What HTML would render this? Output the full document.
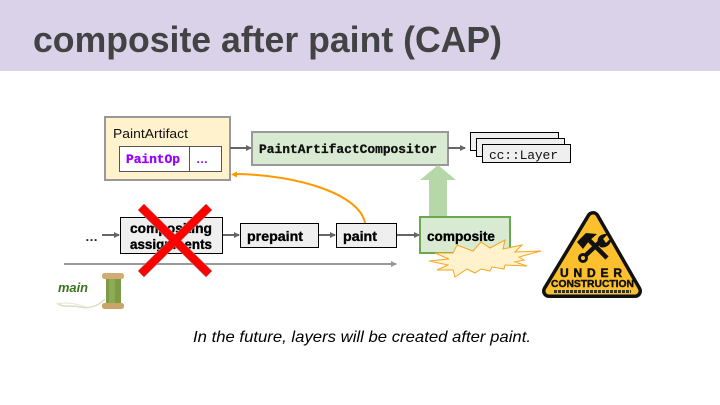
<!DOCTYPE html>
<html><head><meta charset="utf-8"><style>
html,body{margin:0;padding:0;background:#fff;width:720px;height:405px;overflow:hidden}
svg{display:block}
text{font-family:"Liberation Sans",sans-serif}
.m{font-family:"Liberation Mono",monospace}
.b{font-weight:bold;font-size:14px;fill:#000;stroke:#000;stroke-width:.35px}
</style></head><body>
<svg width="720" height="405" viewBox="0 0 720 405" xmlns="http://www.w3.org/2000/svg">
<defs>
<marker id="g" markerWidth="6" markerHeight="6" refX="5" refY="3" orient="auto" markerUnits="userSpaceOnUse"><path d="M0 0L6 3L0 6z" fill="#666"/></marker>
<marker id="g2" markerWidth="6" markerHeight="6" refX="5" refY="3" orient="auto" markerUnits="userSpaceOnUse"><path d="M0 0L6 3L0 6z" fill="#999"/></marker>
</defs>
<rect width="720" height="71" fill="#d9d2e9"/>
<text x="33" y="52" font-size="36" font-weight="bold" fill="#434343" textLength="469" lengthAdjust="spacingAndGlyphs">composite after paint (CAP)</text>

<rect x="105" y="117" width="125" height="63" fill="#fff2cc" stroke="#999" stroke-width="2"/>
<text x="113" y="138" font-size="13" fill="#111" textLength="75" lengthAdjust="spacingAndGlyphs">PaintArtifact</text>
<rect x="119.5" y="146.5" width="102" height="25" fill="#fff" stroke="#555"/>
<line x1="189.5" y1="146.5" x2="189.5" y2="171.5" stroke="#555"/>
<text class="m" x="126" y="163" font-size="13" font-weight="bold" fill="#9900ff" stroke="#9900ff" stroke-width=".3" textLength="54">PaintOp</text>
<text x="196" y="163" font-size="12" font-weight="bold" fill="#9900ff" textLength="8">…</text>

<line x1="230" y1="148" x2="251" y2="148" stroke="#666" stroke-width="2" marker-end="url(#g)"/>
<rect x="252" y="132" width="196" height="33" fill="#d9ead3" stroke="#999" stroke-width="2"/>
<text class="m" x="259" y="153" font-size="13" font-weight="bold" fill="#111" stroke="#111" stroke-width=".3" textLength="178" lengthAdjust="spacingAndGlyphs">PaintArtifactCompositor</text>
<line x1="448" y1="148" x2="465" y2="148" stroke="#666" stroke-width="2" marker-end="url(#g)"/>

<rect x="470.5" y="132.5" width="88" height="18" fill="#efefef" stroke="#000"/>
<rect x="476.5" y="138.5" width="88" height="18" fill="#efefef" stroke="#000"/>
<rect x="482.5" y="144.5" width="88" height="18" fill="#efefef" stroke="#000"/>
<text class="m" x="489" y="159" font-size="13" fill="#111" textLength="69">cc::Layer</text>

<path d="M438 165L456 180H447V217H429V180H420z" fill="#b6d7a8"/>

<path d="M365 223C360 195 300 175 236 174" fill="none" stroke="#ff9900" stroke-width="2"/>
<path d="M231 174.500L237 171.500V177.500z" fill="#ff9900"/>

<text x="85" y="241" font-size="13" font-weight="bold" fill="#222" textLength="11">…</text>
<line x1="102" y1="235" x2="119" y2="235" stroke="#666" stroke-width="2" marker-end="url(#g)"/>
<rect x="120.500" y="217.500" width="102" height="36" fill="#efefef" stroke="#000"/>
<text class="b" x="130" y="233" textLength="82" lengthAdjust="spacingAndGlyphs">compositing</text>
<text class="b" x="130" y="249" textLength="82" lengthAdjust="spacingAndGlyphs">assignments</text>
<line x1="223" y1="235" x2="239" y2="235" stroke="#666" stroke-width="2" marker-end="url(#g)"/>
<rect x="240.500" y="223.500" width="78" height="24" fill="#efefef" stroke="#000"/>
<text class="b" x="247" y="241" textLength="56" lengthAdjust="spacingAndGlyphs">prepaint</text>
<line x1="319" y1="235" x2="335" y2="235" stroke="#666" stroke-width="2" marker-end="url(#g)"/>
<rect x="336.500" y="223.500" width="60" height="24" fill="#efefef" stroke="#000"/>
<text class="b" x="343" y="241" textLength="34" lengthAdjust="spacingAndGlyphs">paint</text>
<line x1="397" y1="235" x2="419" y2="235" stroke="#666" stroke-width="2" marker-end="url(#g)"/>

<rect x="420" y="217" width="90" height="36" fill="#d9ead3" stroke="#6aa84f" stroke-width="2"/>
<text class="b" x="427" y="241" textLength="68" lengthAdjust="spacingAndGlyphs">composite</text>
<path d="M429 261L449 259L435 253L453 253L457 245L473 251L481 242L490 248L505 240L503 249L522 245L515 252L541 251L519 257L524 260L515 262L527 266L505 265L504 269L492 267L490 271L481 269L475 273L467 269L455 277L453 270L437 270L448 265z" fill="#fff2cc" stroke="#f6a623" stroke-width="1"/>

<line x1="64" y1="264" x2="396" y2="264" stroke="#999" stroke-width="2" marker-end="url(#g2)"/>

<g stroke="#999" stroke-width="9">
<line x1="141" y1="207" x2="209" y2="274"/>
<line x1="209" y1="207" x2="141" y2="274"/>
</g>
<g stroke="#ff0000" stroke-width="8">
<line x1="141" y1="207" x2="209" y2="274"/>
<line x1="209" y1="207" x2="141" y2="274"/>
</g>

<text x="58" y="292" font-size="12.500" font-weight="bold" font-style="italic" fill="#38761d" textLength="30" lengthAdjust="spacingAndGlyphs">main</text>
<path d="M57 303C62 308 72 305 80 307C90 309 98 306 105 299" fill="none" stroke="#d8dfc3" stroke-width="1.500"/>
<path d="M57 304C65 302 75 303 86 307" fill="none" stroke="#e3e8d5" stroke-width="1"/>
<rect x="106" y="278" width="15" height="26" fill="#7d9a45"/>
<rect x="109" y="278" width="6" height="26" fill="#8dab52"/>
<rect x="102" y="273" width="22" height="6" rx="2.500" fill="#d0ad75"/>
<rect x="102" y="303" width="22" height="6" rx="2.500" fill="#c9a468"/>

<path d="M593 218L635 291H549z" fill="#111" stroke="#111" stroke-width="14" stroke-linejoin="round"/>
<path d="M593 218L635 291H549z" fill="#fcc02e" stroke="#fcc02e" stroke-width="7" stroke-linejoin="round"/>
<g stroke="#111" fill="none">
<line x1="607" y1="258" x2="586" y2="237" stroke-width="4.500"/>
<line x1="585" y1="256" x2="603" y2="239" stroke-width="4.500"/>
<path d="M577 242L586 233L597 234L589 241L583 249z" fill="#111" stroke="none"/>
<path d="M598 243C596 236 603 233 608 234L603 239L606 243L611 238C612 244 606 249 600 247z" fill="#111" stroke="none"/>
<circle cx="583" cy="258" r="3.500" stroke-width="3"/>
</g>
<text x="560" y="277" font-size="12" font-weight="bold" fill="#111" stroke="#111" stroke-width=".5" textLength="62">UNDER</text>
<text x="551" y="287" font-size="10" font-weight="bold" fill="#111" stroke="#111" stroke-width=".4" textLength="83" lengthAdjust="spacingAndGlyphs">CONSTRUCTION</text>
<line x1="554" y1="291.500" x2="631" y2="291.500" stroke="#333" stroke-width="3" stroke-dasharray="3 1"/>

<text x="193" y="342" font-size="16" font-style="italic" fill="#000" textLength="338" lengthAdjust="spacingAndGlyphs">In the future, layers will be created after paint.</text>
</svg>
</body></html>
